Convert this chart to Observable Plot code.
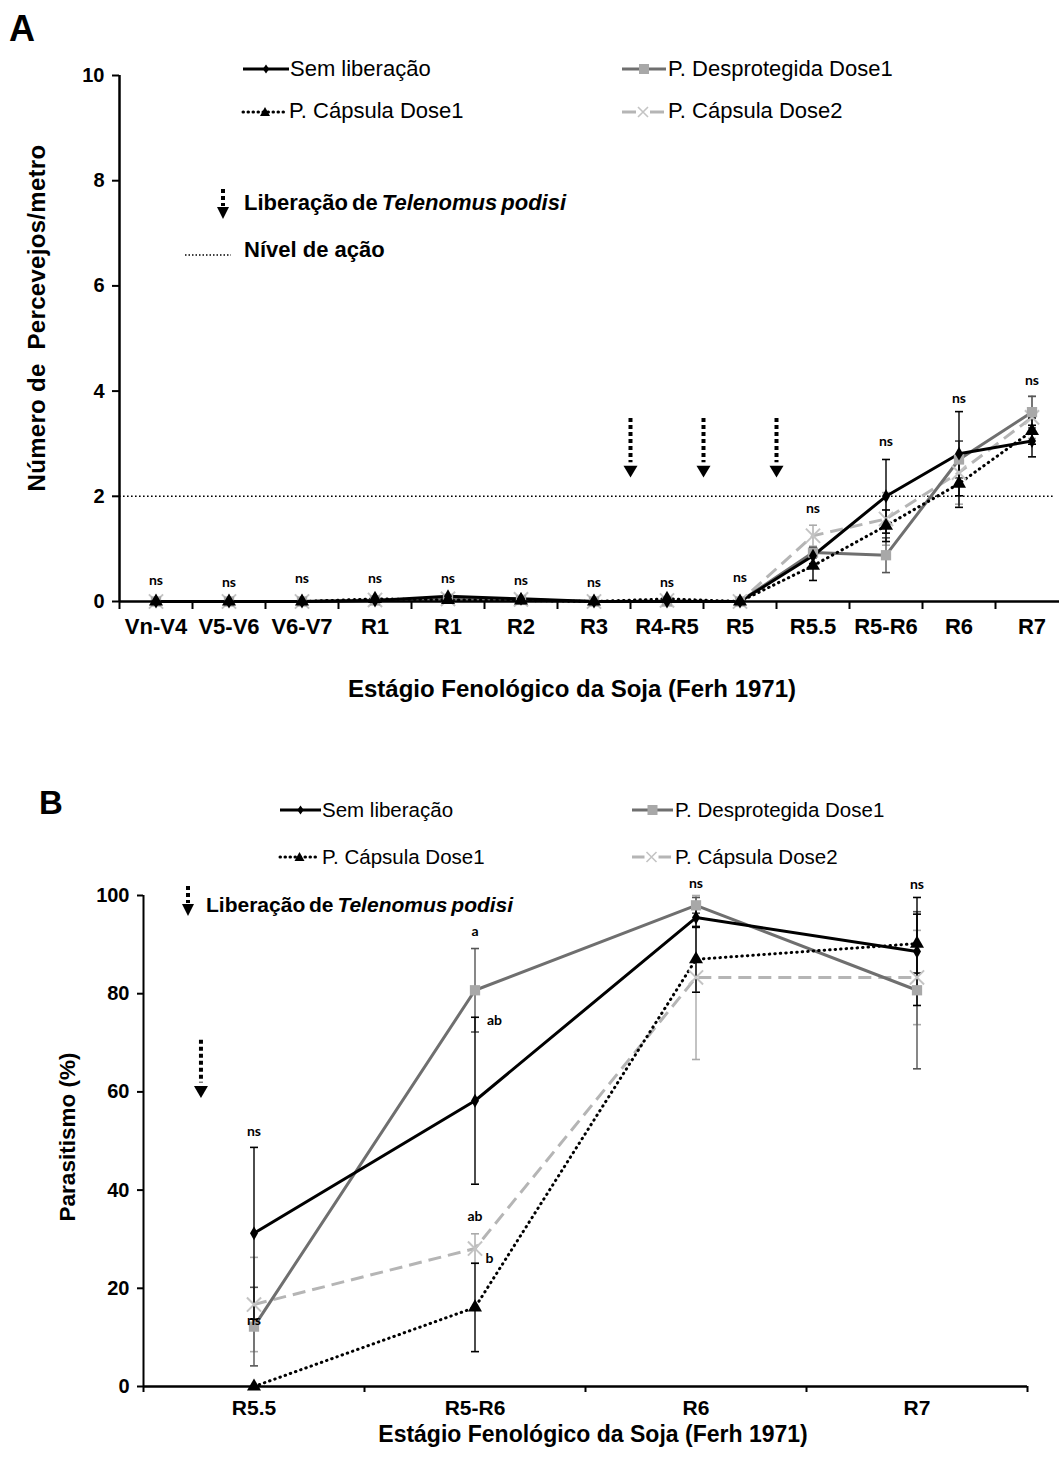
<!DOCTYPE html>
<html><head><meta charset="utf-8">
<script src="https://cdn.jsdelivr.net/npm/d3@7"></script>
<script src="https://cdn.jsdelivr.net/npm/@observablehq/plot@0.6"></script>
<style>
body{margin:0;background:#fff;overflow:hidden;}
#fig{position:relative;width:1059px;height:1461px;overflow:hidden;background:#fff;font-family:"Liberation Sans",Arial,sans-serif;color:#000;}
#fig svg{max-width:none !important;}
.abs{position:absolute;white-space:nowrap;line-height:1;}
</style></head><body>
<div id="fig"></div>
<script>
// ---------- Panel A data ----------
const stagesA = ["Vn-V4","V5-V6","V6-V7","R1","R1","R2","R3","R4-R5","R5","R5.5","R5-R6","R6","R7"];
const semA  = [0,0,0,0.02,0.10,0.05,0,0,0,0.87,2.00,2.81,3.05];
const despA = [0,0,0,0.02,0.05,0.03,0,0,0,0.93,0.88,2.70,3.60];
const cap1A = [0,0,0,0.05,0.03,0.02,0,0.05,0,0.68,1.44,2.24,3.24];
const cap2A = [0,0,0,0.03,0.05,0.04,0,0.02,0,1.25,1.57,2.45,3.50];
const semErrA  = [0,0,0,0,0,0,0,0,0,0.15,0.70,0.80,0.30];
const despErrA = [0,0,0,0,0,0,0,0,0,0.10,0.33,0.35,0.30];
const cap1ErrA = [0,0,0,0,0,0,0,0,0,0.28,0.30,0.45,0.25];
const cap2ErrA = [0,0,0,0,0,0,0,0,0,0.20,0.50,0.60,0.40];
const nsYA = [0.40,0.36,0.44,0.44,0.44,0.40,0.36,0.36,0.46,1.77,3.04,3.86,4.20];
const yTicksA = [0,2,4,6,8,10];
const actionLevel = 2;
const releaseA = [7,8,9];           // boundaries between stages where releases happened
const arrowTopA = 3.48, arrowEndA = 2.64, arrowHeadA = 2.49;

// ---------- Panel B data ----------
const stagesB = ["R5.5","R5-R6","R6","R7"];
const semB  = [31.2,58.2,95.5,88.6];
const despB = [12.2,80.7,98.0,80.7];
const cap1B = [0,16.1,87.0,90.2];
const cap2B = [16.7,28.1,83.3,83.3];
const semErrB  = [17.5,17,2,11];
const despErrB = [8,8.5,1.6,16];
const cap1ErrB = [0,9,6.7,6];
const cap2ErrB = [9.6,3,16.7,9.6];
const lettersB = [
  {x:0.5,y:52,t:"ns"},{x:0.5,y:13.5,t:"ns"},{x:1.5,y:92.7,t:"a"},{x:1.588,y:74.5,t:"ab"},
  {x:1.5,y:34.6,t:"ab"},{x:1.566,y:26,t:"b"},{x:2.5,y:102.4,t:"ns"},{x:3.5,y:102.2,t:"ns"}];
const yTicksB = [0,20,40,60,80,100];
const releaseB = [0.26];
const arrowTopB = 70.5, arrowEndB = 61.8, arrowHeadB = 60.2;

const legendNames = ["Sem liberação","P. Desprotegida Dose1","P. Cápsula Dose1","P. Cápsula Dose2"];

// ---------- styles ----------
const hline = {draw(ctx,size){const r=Math.sqrt(size/Math.PI);ctx.moveTo(-r,0);ctx.lineTo(r,0);}};
const triDown = {draw(ctx,size){const r=Math.sqrt(size/Math.PI);ctx.moveTo(-r,-r*0.7);ctx.lineTo(r,-r*0.7);ctx.lineTo(0,r);ctx.closePath();}};
const ST = {
  sem:  {stroke:"#000", w:3, dash:null, sym:"diamond", fill:"#000", mstroke:"none", r:4.2, eb:"#000"},
  desp: {stroke:"#6f6f6f", w:3, dash:null, sym:"square", fill:"#a8a8a8", mstroke:"none", r:5.8, eb:"#555"},
  cap1: {stroke:"#000", w:3, dash:"0.5,5", cap:"round", sym:"triangle", fill:"#000", mstroke:"none", r:5.2, eb:"#000"},
  cap2: {stroke:"#b5b5b5", w:3, dash:"13,7", sym:"times", fill:"none", mstroke:"#c4c4c4", r:6.5, eb:"#aaa"}
};

function rows(vals, errs){ return vals.map((v,i)=>({x:i+0.5, y:v, e:errs[i]})); }

function seriesMarks(data, st){
  const eb = data.filter(d=>d.e>0);
  return [
    Plot.ruleX(eb,{x:"x",y1:d=>d.y-d.e,y2:d=>d.y+d.e,stroke:st.eb,strokeWidth:1.4}),
    Plot.dot(eb,{x:"x",y:d=>d.y+d.e,symbol:hline,r:4,stroke:st.eb,strokeWidth:1.6,fill:"none"}),
    Plot.dot(eb,{x:"x",y:d=>d.y-d.e,symbol:hline,r:4,stroke:st.eb,strokeWidth:1.6,fill:"none"}),
    Plot.line(data,{x:"x",y:"y",stroke:st.stroke,strokeWidth:st.w,strokeDasharray:st.dash,strokeLinecap:st.cap||"butt",strokeLinejoin:"round"})
  ];
}
function markerMarks(data, st){
  return Plot.dot(data,{x:"x",y:"y",symbol:st.sym,r:st.r,fill:st.fill,stroke:st.mstroke,strokeWidth:st.sym==="times"?2:0});
}

const fig = document.getElementById("fig");

// ---------- Panel A ----------
const dA = {sem:rows(semA,semErrA),desp:rows(despA,despErrA),cap1:rows(cap1A,cap1ErrA),cap2:rows(cap2A,cap2ErrA)};
const plotA = Plot.plot({
  width:1070, height:700, marginLeft:119, marginRight:2, marginTop:75, marginBottom:99,
  style:{fontFamily:"Liberation Sans, Arial, sans-serif", fontSize:"19px", fontWeight:"bold", background:"white"},
  x:{domain:[0,stagesA.length]}, y:{domain:[0,10]},
  marks:[
    Plot.ruleY([actionLevel],{x1:0,x2:12.82,stroke:"#000",strokeWidth:1.6,strokeDasharray:"1.6,2.4"}),
    Plot.axisY(yTicksA,{tickSize:7,tickPadding:8,strokeWidth:2,label:null,tickFormat:d3.format("d"),fontSize:20,fontWeight:"bold"}),
    Plot.axisX(d3.range(stagesA.length+1),{tickSize:8,strokeWidth:2,tickFormat:()=>"",label:null}),
    Plot.axisX(d3.range(stagesA.length).map(i=>i+0.5),{tickSize:0,tickPadding:17,tickFormat:d=>stagesA[Math.floor(d)],label:null,fontSize:22,fontWeight:"bold"}),
    Plot.ruleX(releaseA,{x:d=>d,y1:arrowTopA,y2:arrowEndA,stroke:"#000",strokeWidth:4,strokeDasharray:"4,3"}),
    Plot.dot(releaseA,{x:d=>d,y:arrowHeadA,symbol:triDown,r:7,fill:"#000",stroke:"none"}),
    ...seriesMarks(dA.cap2,ST.cap2), ...seriesMarks(dA.desp,ST.desp), ...seriesMarks(dA.cap1,ST.cap1), ...seriesMarks(dA.sem,ST.sem),
    markerMarks(dA.cap2,ST.cap2), markerMarks(dA.desp,ST.desp), markerMarks(dA.cap1,ST.cap1), markerMarks(dA.sem,ST.sem),
    Plot.text(nsYA,{x:(d,i)=>i+0.5,y:d=>d,text:()=>"ns",fontFamily:"Lato, sans-serif",fontSize:14,fontWeight:"bold"}),
    Plot.ruleY([0],{stroke:"#000",strokeWidth:2.5}),
    Plot.ruleX([0],{stroke:"#000",strokeWidth:2.5})
  ]
});
const wA = document.createElement("div"); wA.style.cssText="position:absolute;left:0;top:0;width:1070px;"; wA.appendChild(plotA); fig.appendChild(wA);

// ---------- Panel B ----------
const dB = {sem:rows(semB,semErrB),desp:rows(despB,despErrB),cap1:rows(cap1B,cap1ErrB),cap2:rows(cap2B,cap2ErrB)};
const plotB = Plot.plot({
  width:1059, height:701, marginLeft:143, marginRight:32, marginTop:135, marginBottom:75,
  style:{fontFamily:"Liberation Sans, Arial, sans-serif", fontSize:"19px", fontWeight:"bold", background:"white"},
  x:{domain:[0,stagesB.length]}, y:{domain:[0,100]},
  marks:[
    Plot.axisY(yTicksB,{tickSize:6,tickPadding:8,strokeWidth:2,label:null,tickFormat:d3.format("d"),fontSize:20,fontWeight:"bold"}),
    Plot.axisX(d3.range(stagesB.length+1),{tickSize:6,strokeWidth:2,tickFormat:()=>"",label:null}),
    Plot.axisX(d3.range(stagesB.length).map(i=>i+0.5),{tickSize:0,tickPadding:14,tickFormat:d=>stagesB[Math.floor(d)],label:null,fontSize:21,fontWeight:"bold"}),
    Plot.ruleX(releaseB,{x:d=>d,y1:arrowTopB,y2:arrowEndB,stroke:"#000",strokeWidth:4,strokeDasharray:"4,3"}),
    Plot.dot(releaseB,{x:d=>d,y:arrowHeadB,symbol:triDown,r:7,fill:"#000",stroke:"none"}),
    ...seriesMarks(dB.cap2,ST.cap2), ...seriesMarks(dB.desp,ST.desp), ...seriesMarks(dB.cap1,ST.cap1), ...seriesMarks(dB.sem,ST.sem),
    markerMarks(dB.cap2,ST.cap2), markerMarks(dB.desp,ST.desp), markerMarks(dB.cap1,ST.cap1), markerMarks(dB.sem,ST.sem),
    Plot.text(lettersB,{x:"x",y:"y",text:"t",fontFamily:"Lato, sans-serif",fontSize:14,fontWeight:"bold"}),
    Plot.ruleY([0],{stroke:"#000",strokeWidth:2.5}),
    Plot.ruleX([0],{stroke:"#000",strokeWidth:2})
  ]
});
const wB = document.createElement("div"); wB.style.cssText="position:absolute;left:0;top:760px;"; wB.appendChild(plotB); fig.appendChild(wB);

// ---------- overlay text & legends ----------
function addText(html, x, y, opts={}){
  const d=document.createElement("div"); d.className="abs";
  d.innerHTML=html;
  const size=opts.size||20;
  d.style.cssText+=`left:${x}px;top:${y}px;font-size:${size}px;font-weight:${opts.weight||"normal"};`+
    `transform:translate(${opts.center?"-50%":"0"},-50%)${opts.rotate?" rotate(-90deg)":""};`+(opts.extra||"");
  fig.appendChild(d); return d;
}
function swatch(key, x, y, w){
  const st=ST[key]; const h=20;
  const s=document.createElementNS("http://www.w3.org/2000/svg","svg");
  s.setAttribute("width",w); s.setAttribute("height",h);
  s.style.cssText=`position:absolute;left:${x}px;top:${y-h/2}px;overflow:visible;`;
  let mk="";
  const c=w/2, m=h/2;
  if(key==="sem") mk=`<path d="M${c},${m-4.5}L${c+3.2},${m}L${c},${m+4.5}L${c-3.2},${m}Z" fill="#000"/>`;
  if(key==="desp") mk=`<rect x="${c-5}" y="${m-5}" width="10" height="10" fill="#a8a8a8"/>`;
  if(key==="cap1") mk=`<path d="M${c-5},${m+4}L${c+5},${m+4}L${c},${m-5}Z" fill="#000"/>`;
  if(key==="cap2") mk=`<path d="M${c-5},${m-5}L${c+5},${m+5}M${c+5},${m-5}L${c-5},${m+5}" stroke="#c4c4c4" stroke-width="1.6"/>`;
  const dash = key==="cap1" ? `stroke-dasharray="0.5,4.5" stroke-linecap="round"` : "";
  let line;
  if(key==="cap2") line=`<path d="M0,${m}H${c-7}M${c+7},${m}H${w}" stroke="${st.stroke}" stroke-width="3"/>`;
  else line=`<path d="M0,${m}H${w}" stroke="${st.stroke}" stroke-width="3" ${dash}/>`;
  s.innerHTML=line+mk; fig.appendChild(s);
}
function arrowIcon(x, y){
  const s=document.createElementNS("http://www.w3.org/2000/svg","svg");
  s.setAttribute("width",16); s.setAttribute("height",32);
  s.style.cssText=`position:absolute;left:${x-8}px;top:${y}px;`;
  s.innerHTML=`<path d="M8,0V17" stroke="#000" stroke-width="4" stroke-dasharray="4,3"/><path d="M2,18H14L8,30Z" fill="#000"/>`;
  fig.appendChild(s);
}
const lib = `Liberação de <i>Telenomus podisi</i>`;

// Panel A overlays
addText("A", 9, 29, {size:36, weight:"bold"});
swatch("sem",243,69,46);  addText(legendNames[0],290,69,{size:22});
swatch("cap1",243,112,44); addText(legendNames[2],289,111,{size:22});
swatch("desp",622,69,44); addText(legendNames[1],668,69,{size:22});
swatch("cap2",622,112,42); addText(legendNames[3],668,111,{size:22});
arrowIcon(223,189);
addText(lib,244,203,{size:22,weight:"bold",extra:"word-spacing:-2px;"});
(function(){const s=document.createElementNS("http://www.w3.org/2000/svg","svg");s.setAttribute("width",48);s.setAttribute("height",4);
 s.style.cssText="position:absolute;left:185px;top:253px;";s.innerHTML=`<path d="M0,2H46" stroke="#000" stroke-width="1.5" stroke-dasharray="1.5,2"/>`;fig.appendChild(s);})();
addText("Nível de ação",244,250,{size:22,weight:"bold"});
addText("Número de&nbsp; Percevejos/metro",37,318,{size:24,weight:"bold",center:true,rotate:true,extra:"letter-spacing:0.3px;"});
addText("Estágio Fenológico da Soja (Ferh 1971)",572,689,{size:24,weight:"bold",center:true});

// Panel B overlays
addText("B", 39, 802, {size:33, weight:"bold"});
swatch("sem",280,810,41);  addText(legendNames[0],322,810,{size:20.5});
swatch("cap1",280,857,39); addText(legendNames[2],322,857,{size:20.5});
swatch("desp",632,810,41); addText(legendNames[1],675,810,{size:20.5});
swatch("cap2",632,857,39); addText(legendNames[3],675,857,{size:20.5});
arrowIcon(188,886);
addText(lib,206,904,{size:21,weight:"bold",extra:"word-spacing:-2px;"});
addText("Parasitismo (%)",68,1137,{size:22.5,weight:"bold",center:true,rotate:true});
addText("Estágio Fenológico da Soja (Ferh 1971)",593,1434,{size:23,weight:"bold",center:true});
</script>
</body></html>
